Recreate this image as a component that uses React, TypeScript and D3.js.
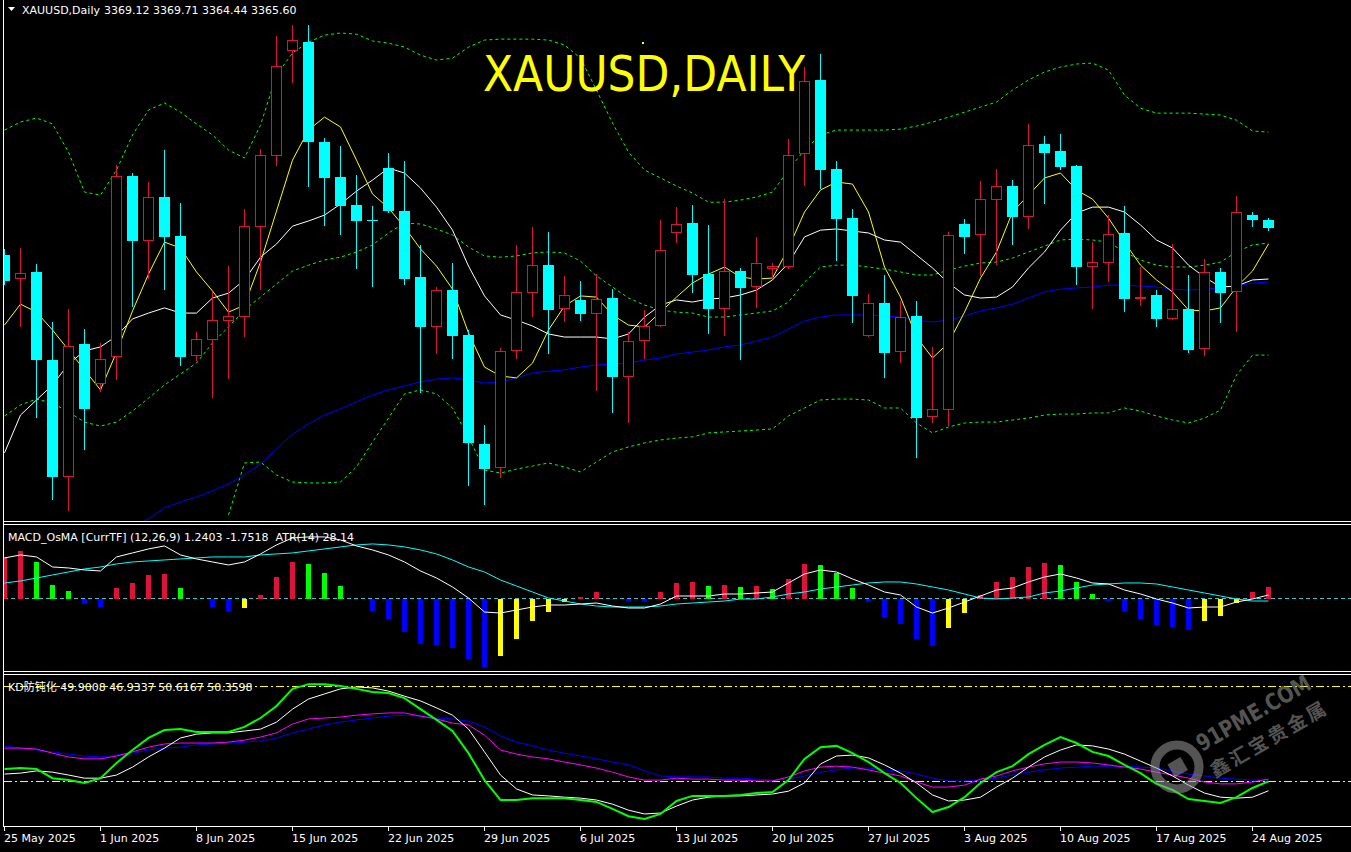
import * as d3 from "d3";
import { useEffect } from "react";

// XAUUSD daily, 25 May – 25 Aug 2025 (6 bars per week, Sunday bar included)
const tickLabels = ["25 May 2025", "1 Jun 2025", "8 Jun 2025", "15 Jun 2025", "22 Jun 2025", "29 Jun 2025", "6 Jul 2025",
  "13 Jul 2025", "20 Jul 2025", "27 Jul 2025", "3 Aug 2025", "10 Aug 2025", "17 Aug 2025", "24 Aug 2025"];
const BARS_PER_WEEK = 6;

const opens = [3354.1, 3343.9, 3346.9, 3309.4, 3259.6, 3316.2, 3299.2, 3310.7, 3387.7, 3360.1,
  3378.8, 3362.2, 3311.1, 3317.9, 3326.0, 3327.7, 3366.0, 3396.2, 3440.9, 3444.7,
  3402.2, 3387.3, 3375.4, 3369.0, 3391.1, 3372.8, 3344.7, 3323.5, 3339.2, 3320.1,
  3273.7, 3263.5, 3313.3, 3337.9, 3349.8, 3331.1, 3335.0, 3329.0, 3335.8, 3302.2,
  3317.5, 3323.9, 3363.5, 3367.7, 3346.0, 3331.1, 3347.3, 3340.5, 3348.1, 3349.0,
  3397.1, 3428.6, 3390.7, 3369.8, 3319.6, 3333.7, 3312.8, 3328.1, 3285.2, 3288.1,
  3367.3, 3362.6, 3377.5, 3383.5, 3370.3, 3401.3, 3398.4, 3392.0, 3349.0, 3350.7,
  3363.5, 3335.4, 3337.1, 3326.9, 3331.1, 3314.1, 3346.9, 3338.4, 3371.1, 3369.12];
const highs = [3356.7, 3357.1, 3350.3, 3325.6, 3331.1, 3322.6, 3316.7, 3392.4, 3389.0, 3385.2,
  3398.8, 3376.2, 3321.3, 3338.4, 3349.4, 3373.7, 3399.2, 3447.3, 3452.0, 3452.0,
  3403.9, 3400.5, 3388.2, 3374.9, 3397.5, 3394.1, 3358.4, 3340.5, 3350.7, 3322.2,
  3281.8, 3314.5, 3358.4, 3366.0, 3363.9, 3345.2, 3343.0, 3346.0, 3339.6, 3321.3,
  3330.7, 3369.0, 3374.5, 3375.4, 3366.9, 3377.9, 3348.6, 3361.8, 3350.7, 3403.5,
  3434.1, 3439.6, 3394.1, 3373.7, 3337.5, 3345.6, 3334.5, 3334.5, 3315.0, 3363.9,
  3369.4, 3385.6, 3390.7, 3386.0, 3409.9, 3404.7, 3405.6, 3392.4, 3359.6, 3371.1,
  3374.9, 3349.0, 3339.2, 3358.8, 3345.6, 3352.4, 3348.6, 3379.2, 3372.4, 3369.71];
const lows = [3341.3, 3323.5, 3284.7, 3249.9, 3245.2, 3271.1, 3295.8, 3300.9, 3332.0, 3343.9,
  3339.2, 3306.9, 3309.0, 3293.2, 3301.3, 3319.2, 3339.2, 3392.0, 3427.3, 3383.0,
  3366.4, 3362.6, 3348.1, 3340.5, 3372.0, 3341.3, 3295.4, 3312.0, 3309.8, 3255.8,
  3247.7, 3259.2, 3309.8, 3327.7, 3312.0, 3325.6, 3326.0, 3296.2, 3286.9, 3282.6,
  3309.8, 3323.5, 3359.2, 3337.9, 3320.5, 3319.6, 3309.4, 3331.6, 3344.3, 3348.1,
  3383.5, 3382.2, 3351.5, 3325.2, 3319.2, 3301.8, 3308.1, 3267.7, 3282.6, 3281.3,
  3354.5, 3345.2, 3349.8, 3358.4, 3365.2, 3375.8, 3390.3, 3341.3, 3331.1, 3342.6,
  3329.8, 3332.4, 3323.5, 3326.4, 3312.4, 3311.1, 3325.2, 3321.3, 3366.0, 3364.44];
const closes = [3343.0, 3346.4, 3309.4, 3259.6, 3315.4, 3288.6, 3309.8, 3387.7, 3360.1, 3378.8,
  3361.8, 3310.7, 3318.4, 3326.4, 3328.1, 3366.4, 3396.7, 3434.5, 3445.6, 3402.2,
  3386.9, 3374.9, 3368.6, 3368.6, 3372.8, 3343.9, 3323.5, 3339.2, 3319.6, 3274.1,
  3263.0, 3313.3, 3338.4, 3349.8, 3330.7, 3337.1, 3329.0, 3335.4, 3302.2, 3317.5,
  3323.9, 3356.2, 3367.3, 3345.6, 3331.1, 3347.3, 3340.1, 3350.7, 3349.4, 3396.7,
  3428.1, 3390.3, 3369.4, 3336.7, 3333.7, 3312.4, 3327.7, 3284.7, 3288.6, 3362.6,
  3361.8, 3377.9, 3383.5, 3370.3, 3400.9, 3397.5, 3391.6, 3349.0, 3351.1, 3363.0,
  3335.4, 3336.2, 3326.9, 3331.1, 3313.7, 3346.9, 3337.9, 3372.4, 3369.0, 3365.60];

// moving averages
const maFast = [3324.3, 3333.2, 3329.8, 3322.2, 3313.7, 3305.2, 3296.7, 3312.8, 3330.3, 3346.0,
  3359.6, 3357.1, 3346.9, 3338.8, 3329.8, 3332.8, 3351.1, 3372.8, 3394.5, 3407.3,
  3412.8, 3408.6, 3394.5, 3380.1, 3374.1, 3366.0, 3356.7, 3349.4, 3339.6, 3320.9,
  3306.4, 3302.6, 3301.8, 3308.1, 3322.2, 3332.4, 3336.7, 3336.2, 3328.6, 3324.3,
  3323.5, 3329.8, 3336.2, 3342.2, 3346.0, 3349.0, 3344.7, 3343.9, 3344.3, 3357.1,
  3372.4, 3381.8, 3385.2, 3384.3, 3372.4, 3349.0, 3336.2, 3319.2, 3310.3, 3316.7,
  3329.8, 3344.3, 3355.4, 3372.4, 3379.6, 3386.9, 3389.0, 3381.8, 3377.9, 3369.8,
  3359.6, 3349.8, 3343.5, 3338.4, 3330.7, 3330.3, 3331.6, 3340.5, 3347.3, 3358.8];
const maMid = [3269.9, 3286.0, 3292.4, 3298.8, 3307.7, 3313.3, 3315.0, 3319.6, 3326.9, 3329.4,
  3331.6, 3329.4, 3329.4, 3335.8, 3337.9, 3343.5, 3353.2, 3358.8, 3366.4, 3368.6,
  3371.1, 3375.8, 3381.3, 3386.0, 3391.1, 3389.0, 3382.6, 3374.5, 3364.7, 3349.4,
  3336.7, 3328.6, 3326.4, 3323.9, 3320.5, 3319.2, 3319.2, 3319.2, 3318.4, 3320.5,
  3327.7, 3332.8, 3335.0, 3334.1, 3335.4, 3335.8, 3337.1, 3339.2, 3343.5, 3350.7,
  3361.8, 3364.7, 3365.2, 3364.3, 3363.5, 3360.5, 3359.6, 3354.1, 3348.6, 3342.2,
  3337.1, 3335.8, 3336.2, 3340.5, 3348.6, 3355.4, 3364.7, 3372.0, 3374.5, 3374.5,
  3372.4, 3366.9, 3360.5, 3357.1, 3349.8, 3344.7, 3340.5, 3340.9, 3343.5, 3343.9];
const maSlow = [null, null, null, null, null, null, null, 3235.4, 3238.4, 3241.8,
  3246.5, 3249.0, 3251.1, 3253.7, 3256.7, 3260.5, 3265.2, 3271.6, 3277.9, 3282.2,
  3286.0, 3288.6, 3291.6, 3294.5, 3296.7, 3298.4, 3300.1, 3301.3, 3301.8, 3300.9,
  3299.6, 3300.1, 3301.8, 3303.9, 3304.7, 3305.2, 3306.4, 3307.3, 3307.7, 3308.1,
  3309.4, 3310.3, 3312.0, 3312.8, 3313.7, 3315.0, 3315.8, 3317.5, 3319.2, 3322.6,
  3326.0, 3327.7, 3328.6, 3328.6, 3328.6, 3328.1, 3327.7, 3326.4, 3325.6, 3326.4,
  3328.1, 3330.3, 3331.6, 3333.2, 3335.8, 3338.4, 3339.6, 3340.1, 3340.5, 3341.3,
  3341.3, 3340.9, 3340.5, 3339.6, 3339.2, 3339.6, 3340.1, 3340.9, 3342.2, 3342.6];

// bollinger bands
const bbUpper = [3407.3, 3410.7, 3412.4, 3409.9, 3397.9, 3380.9, 3379.6, 3390.3, 3405.2, 3415.8,
  3418.8, 3414.9, 3409.9, 3405.2, 3398.8, 3395.4, 3409.4, 3430.7, 3440.1, 3444.7,
  3447.7, 3448.6, 3448.1, 3445.2, 3444.3, 3442.6, 3439.2, 3437.1, 3437.9, 3442.6,
  3445.6, 3446.0, 3446.0, 3446.0, 3445.6, 3443.5, 3437.9, 3424.3, 3410.3, 3397.9,
  3390.3, 3386.9, 3383.5, 3380.5, 3376.6, 3376.6, 3377.5, 3378.8, 3380.9, 3390.3,
  3398.8, 3405.2, 3407.3, 3407.3, 3407.3, 3407.3, 3407.7, 3409.0, 3410.7, 3412.8,
  3414.9, 3417.1, 3419.2, 3424.3, 3428.6, 3432.0, 3434.1, 3435.4, 3435.8, 3432.8,
  3422.2, 3416.6, 3414.5, 3414.5, 3414.5, 3414.1, 3413.7, 3411.5, 3406.9, 3406.4];
const bbMiddle = [3285.6, 3290.3, 3292.8, 3291.1, 3287.3, 3283.0, 3281.3, 3283.0, 3287.7, 3293.2,
  3298.8, 3303.5, 3308.1, 3316.7, 3323.5, 3330.7, 3336.2, 3341.8, 3347.3, 3349.8,
  3352.0, 3353.2, 3355.4, 3358.4, 3363.5, 3367.7, 3367.3, 3365.2, 3362.6, 3357.5,
  3353.7, 3353.2, 3353.7, 3355.0, 3355.4, 3355.0, 3351.5, 3345.2, 3340.5, 3335.8,
  3332.8, 3330.7, 3329.8, 3329.4, 3327.7, 3327.7, 3328.6, 3329.4, 3330.3, 3334.1,
  3342.6, 3349.0, 3349.8, 3349.8, 3349.0, 3348.1, 3346.9, 3345.6, 3345.6, 3347.7,
  3349.4, 3350.7, 3351.1, 3352.8, 3355.4, 3357.9, 3360.5, 3360.9, 3360.5, 3359.6,
  3355.4, 3352.0, 3349.8, 3349.0, 3349.0, 3349.8, 3351.1, 3355.4, 3358.4, 3359.2];
const bbLower = [null, null, null, null, null, null, null, null, null, null,
  null, null, null, null, 3243.5, 3265.6, 3266.0, 3260.5, 3257.5, 3257.1,
  3257.1, 3257.5, 3263.9, 3274.5, 3284.7, 3295.0, 3296.7, 3295.0, 3289.0, 3276.7,
  3262.6, 3261.3, 3263.0, 3264.3, 3265.6, 3263.9, 3261.8, 3266.0, 3270.3, 3272.4,
  3274.1, 3275.4, 3276.2, 3276.7, 3278.4, 3278.8, 3279.2, 3279.6, 3280.1, 3285.6,
  3289.0, 3292.4, 3292.8, 3292.8, 3292.4, 3289.0, 3289.0, 3282.6, 3278.4, 3280.9,
  3282.6, 3283.0, 3283.0, 3283.9, 3284.7, 3286.0, 3286.4, 3286.4, 3286.9, 3286.9,
  3289.0, 3287.7, 3285.6, 3283.9, 3282.6, 3284.7, 3288.1, 3303.0, 3311.5, 3311.5];

// MACD_OsMA (12,26,9)
const osma = [4.57, 5.20, 4.02, 1.46, 0.84, -0.63, -0.99, 1.13, 1.71, 2.59,
  2.70, 1.13, -0.19, -0.99, -1.51, -1.10, 0.36, 2.34, 3.99, 3.80,
  2.81, 1.35, -0.19, -1.40, -2.27, -3.67, -5.02, -5.13, -5.43, -6.67,
  -7.52, -6.31, -4.44, -2.46, -1.47, -0.41, 0.11, 0.69, -0.08, -0.30,
  -0.37, 0.69, 1.68, 1.74, 1.35, 1.41, 1.24, 1.30, 1.02, 2.12,
  3.80, 3.66, 2.78, 1.13, -0.37, -2.13, -2.79, -4.47, -5.21, -3.23,
  -1.58, 0.33, 1.79, 2.34, 3.44, 3.88, 3.66, 1.79, 0.47, -0.30,
  -1.47, -2.27, -2.93, -3.15, -3.45, -2.49, -1.95, -0.48, 0.69, 1.2403];
const macdMain = [4.43, 4.76, 4.54, 3.44, 3.33, 3.11, 3.00, 4.54, 4.98, 5.42,
  5.75, 4.76, 4.32, 3.99, 3.66, 3.99, 4.87, 5.86, 6.63, 6.74,
  6.74, 6.41, 5.75, 5.31, 4.76, 3.99, 3.00, 2.23, 1.24, 0.03,
  -1.51, -1.62, -1.29, -0.96, -0.74, -0.74, -0.63, -0.52, -0.85, -1.07,
  -1.07, -0.63, 0.25, 0.25, 0.25, 0.47, 0.47, 0.58, 0.69, 1.68,
  2.67, 3.11, 2.89, 2.12, 1.46, 0.69, 0.36, -0.96, -1.62, -1.07,
  -0.41, 0.25, 0.91, 1.13, 1.79, 2.34, 2.67, 2.23, 1.68, 1.57,
  0.91, 0.47, -0.08, -0.52, -1.07, -0.96, -0.96, -0.41, -0.08, 0.36];
const macdSignal = [1.68, 1.90, 2.23, 2.56, 2.89, 3.22, 3.44, 3.77, 3.99, 4.10,
  4.21, 4.32, 4.43, 4.54, 4.54, 4.54, 4.76, 4.87, 4.98, 5.20,
  5.42, 5.64, 5.86, 5.97, 5.86, 5.64, 5.31, 4.87, 4.21, 3.44,
  2.89, 2.01, 1.35, 0.69, 0.03, -0.30, -0.63, -0.85, -0.96, -0.96,
  -0.96, -0.85, -0.63, -0.52, -0.41, -0.30, -0.08, -0.08, 0.14, 0.47,
  0.69, 1.02, 1.24, 1.46, 1.68, 1.79, 1.79, 1.57, 1.24, 0.91,
  0.47, 0.03, -0.08, 0.03, 0.14, 0.58, 0.80, 1.13, 1.46, 1.57,
  1.68, 1.68, 1.57, 1.24, 0.91, 0.58, 0.25, -0.08, -0.30, -0.30];

// KD防钝化
const kdFast = [53.8, 54.1, 53.8, 50.9, 50.3, 49.4, 50.9, 55.7, 59.8, 63.6,
  66.1, 66.4, 65.5, 65.5, 65.5, 67.1, 69.9, 73.7, 79.1, 80.6,
  80.6, 80.0, 79.1, 78.1, 77.8, 76.2, 72.7, 69.3, 65.8, 58.8,
  50.3, 44.0, 44.0, 44.6, 44.6, 44.6, 44.0, 43.4, 41.2, 38.9,
  38.0, 39.6, 43.7, 45.3, 45.3, 45.3, 45.6, 46.2, 46.5, 50.3,
  57.0, 60.7, 61.1, 58.8, 56.0, 52.5, 49.4, 44.6, 40.2, 41.8,
  44.9, 49.4, 52.8, 54.7, 58.5, 61.4, 63.9, 62.0, 59.2, 57.9,
  55.1, 52.5, 49.1, 47.2, 44.3, 43.7, 43.1, 44.9, 47.8, 49.9008];
const kdSlow = [52.2, 52.5, 53.2, 52.8, 51.9, 50.9, 50.9, 51.9, 54.4, 57.6,
  60.4, 63.6, 64.8, 65.2, 65.2, 65.8, 66.4, 68.6, 72.7, 75.9,
  77.5, 79.1, 79.7, 79.4, 78.4, 76.8, 75.3, 73.1, 70.8, 66.4,
  59.2, 51.9, 47.5, 45.6, 45.3, 44.9, 44.6, 44.0, 42.7, 40.8,
  39.6, 39.9, 42.1, 44.0, 44.9, 45.3, 45.3, 45.6, 45.9, 46.8,
  49.4, 55.4, 57.9, 58.2, 57.3, 55.1, 52.5, 49.4, 45.6, 43.7,
  44.0, 44.9, 48.1, 50.9, 54.4, 57.6, 59.8, 61.4, 61.1, 60.1,
  58.5, 56.3, 54.1, 51.6, 48.7, 46.2, 44.9, 44.6, 44.9, 46.9337];
const kdLongA = [60.4, 60.4, 60.1, 58.8, 57.6, 57.0, 57.0, 57.9, 59.2, 60.7,
  61.7, 62.0, 62.0, 62.0, 62.3, 62.9, 63.9, 65.2, 68.0, 69.6,
  69.9, 70.2, 70.8, 71.2, 71.5, 71.5, 70.5, 69.6, 68.3, 67.7,
  64.5, 59.8, 58.5, 57.6, 57.0, 56.0, 55.1, 54.1, 52.8, 51.3,
  50.3, 50.3, 50.9, 50.6, 50.6, 50.3, 50.3, 50.0, 50.0, 51.3,
  53.2, 54.4, 54.7, 54.4, 53.5, 52.5, 51.6, 49.7, 48.1, 48.1,
  48.7, 50.6, 51.6, 53.2, 54.4, 55.4, 56.0, 56.0, 55.7, 55.1,
  54.4, 53.8, 52.8, 51.9, 50.9, 49.7, 49.1, 49.1, 49.7, 50.6167];
const kdLongB = [61.1, 60.4, 59.8, 59.2, 58.5, 57.9, 57.6, 58.2, 58.8, 59.8,
  60.4, 60.7, 61.4, 61.7, 62.0, 62.3, 62.6, 63.6, 65.2, 66.4,
  67.7, 68.6, 69.3, 69.9, 70.5, 70.8, 70.5, 69.9, 69.6, 68.9,
  67.1, 64.2, 62.3, 61.1, 59.8, 58.8, 57.9, 57.0, 56.0, 55.1,
  53.2, 51.6, 51.3, 51.3, 51.3, 50.9, 50.9, 50.6, 50.3, 50.6,
  51.6, 52.8, 53.5, 54.1, 54.1, 53.5, 53.2, 52.2, 50.9, 50.0,
  50.0, 50.3, 50.9, 51.9, 52.8, 53.5, 54.1, 54.4, 54.7, 54.7,
  54.7, 54.4, 54.1, 53.2, 52.2, 51.6, 50.9, 50.6, 50.3, 50.3598];
const kdLevels = [80, 50];

const RED = "#DC143C";
const CYAN = "#00FFFF";
const LIME = "#00FF00";
const FONT = "DejaVu Sans, 'Noto Sans CJK SC', sans-serif";

export default function App() {
  useEffect(() => {
    document.body.style.margin = "0";
    document.body.style.background = "#000";
  }, []);

  const W = 1351, H = 852;
  const n = opens.length;
  const x = d3.scaleLinear().domain([0, n - 1]).range([4.5, 4.5 + 16 * (n - 1)]);
  const yP = d3.scaleLinear().domain([3240.9, 3461.8]).range([521, 2]);
  const yM = d3.scaleLinear().domain([-7.99, 8.16]).range([671, 524]);
  const yK = d3.scaleLinear().domain([35.8, 83.8]).range([826, 674]);

  const path = (scale: d3.ScaleLinear<number, number>, data: (number | null)[]) =>
    d3.line<number | null>()
      .defined(d => d != null)
      .x((_, i) => x(i))
      .y(d => scale(d as number))(data) || "";

  const zeroY = Math.round(yM(0));
  const barColor = (v: number, i: number) => {
    const prev = i > 0 ? osma[i - 1] : -Infinity;
    if (v >= 0) return v > prev ? RED : LIME;
    return v < prev ? "#0000FF" : "#FFFF00";
  };

  const panelLines = [521, 524, 671, 674, 826];
  const ticks = tickLabels.map((t, i) => ({ t, i: i * BARS_PER_WEEK }));

  return (
    <svg width={W} height={H} style={{ position: "absolute", left: 0, top: 0, display: "block", background: "#000" }}>
      <defs>
        <clipPath id="cMain"><rect x={4} y={0} width={W} height={521} /></clipPath>
        <clipPath id="cMacd"><rect x={4} y={525} width={W} height={146} /></clipPath>
        <clipPath id="cKd"><rect x={4} y={675} width={W} height={151} /></clipPath>
      </defs>
      <rect x={0} y={0} width={W} height={H} fill="#000" />

      {/* main window */}
      <g clipPath="url(#cMain)">
        {[bbUpper, bbMiddle, bbLower].map((b, j) => (
          <path key={j} d={path(yP, b)} fill="none" stroke={LIME} strokeWidth={1} strokeDasharray="3 3" />
        ))}
        <path d={path(yP, maSlow)} fill="none" stroke="#0000FF" strokeWidth={1} />
        <path d={path(yP, maMid)} fill="none" stroke="#FFFFFF" strokeWidth={1} />
        <path d={path(yP, maFast)} fill="none" stroke="#FFFF00" strokeWidth={1} />
        {opens.map((o, i) => {
          const c = closes[i];
          const up = c > o;
          const cx = x(i);
          const top = Math.round(yP(Math.max(o, c)));
          const bot = Math.round(yP(Math.min(o, c)));
          const col = up ? RED : CYAN;
          return (
            <g key={i}>
              <line x1={cx} x2={cx} y1={Math.round(yP(highs[i]))} y2={Math.round(yP(lows[i]))} stroke={col} strokeWidth={1} />
              {up ? (
                <rect x={cx - 5} y={top + 0.5} width={10} height={Math.max(bot - top - 1, 1)} fill="#000" stroke={RED} strokeWidth={1} />
              ) : (
                <rect x={cx - 5.5} y={top} width={11} height={Math.max(bot - top, 1)} fill={CYAN} />
              )}
            </g>
          );
        })}
      </g>
      <text x={483} y={91} fill="#FFFF00" fontFamily={FONT} fontSize={50} textLength={322} lengthAdjust="spacingAndGlyphs">XAUUSD,DAILY</text>
      <rect x={642} y={42} width={2} height={2} fill="#FFFF00" />
      <polygon points="8,7 15,7 11.5,11" fill="#FFFFFF" />
      <text x={22} y={14} fill="#FFFFFF" fontFamily={FONT} fontSize={11}>XAUUSD,Daily</text>
      <text x={104} y={14} fill="#FFFFFF" fontFamily={FONT} fontSize={11}>3369.12 3369.71 3364.44 3365.60</text>

      {/* MACD_OsMA window */}
      <g clipPath="url(#cMacd)">
        <line x1={4} x2={W} y1={zeroY + 0.5} y2={zeroY + 0.5} stroke="#40C0C8" strokeWidth={1} strokeDasharray="4 3" />
        {osma.map((v, i) => {
          const yv = Math.round(yM(v));
          const y0 = v >= 0 ? yv : zeroY + 1;
          const h = v >= 0 ? zeroY + 1 - yv : yv - zeroY - 1;
          return <rect key={i} x={x(i) - 2.5} y={y0} width={5} height={Math.max(h, 1)} fill={barColor(v, i)} />;
        })}
        <path d={path(yM, macdSignal)} fill="none" stroke={CYAN} strokeWidth={1} />
        <path d={path(yM, macdMain)} fill="none" stroke="#FFFFFF" strokeWidth={1} />
      </g>
      <text x={8} y={541} fill="#FFFFFF" fontFamily={FONT} fontSize={11} style={{ whiteSpace: "pre" }}>MACD_OsMA [CurrTF] (12,26,9) 1.2403 -1.7518  ATR(14) 28.14</text>

      {/* KD window */}
      <g clipPath="url(#cKd)">
        {kdLevels.map(l => (
          <line key={l} x1={4} x2={W} y1={Math.round(yK(l)) + 0.5} y2={Math.round(yK(l)) + 0.5} stroke="#FFFF00" strokeWidth={1} strokeDasharray="8 3 2 3" />
        ))}
        <path d={path(yK, kdLongB)} fill="none" stroke="#0000FF" strokeWidth={1} />
        <path d={path(yK, kdLongA)} fill="none" stroke="#FF00FF" strokeWidth={1} />
        <path d={path(yK, kdSlow)} fill="none" stroke="#FFFFFF" strokeWidth={1} />
        <path d={path(yK, kdFast)} fill="none" stroke={LIME} strokeWidth={2} />
      </g>
      <text x={8} y={691} fill="#FFFFFF" fontFamily={FONT} fontSize={11}>KD防钝化 49.9008 46.9337 50.6167 50.3598</text>

      {/* watermark */}
      <g opacity={0.55} fill="#9a9a9a">
        <circle cx={1177} cy={767} r={22} fill="none" stroke="#9a9a9a" strokeWidth={9} />
        <rect x={1170} y={760} width={15} height={15} transform="rotate(-30 1177 767)" />
        <text x={1202} y={752} fontFamily={FONT} fontWeight="bold" fontSize={23} textLength={128} lengthAdjust="spacingAndGlyphs" transform="rotate(-30 1202 752)">91PME.COM</text>
        <text x={1215} y={778} fontFamily={FONT} fontWeight="bold" fontSize={19} textLength={130} transform="rotate(-30 1215 778)">鑫汇宝贵金属</text>
      </g>

      {/* frame */}
      <line x1={3.5} x2={3.5} y1={0} y2={826} stroke="#FFFFFF" strokeWidth={1} />
      {panelLines.map(py => (
        <line key={py} x1={3} x2={W} y1={py + 0.5} y2={py + 0.5} stroke="#FFFFFF" strokeWidth={1} />
      ))}

      {/* time axis */}
      {ticks.map(({ t, i }) => (
        <g key={t}>
          <line x1={Math.floor(x(i)) + 0.5} x2={Math.floor(x(i)) + 0.5} y1={826} y2={831} stroke="#FFFFFF" strokeWidth={1} />
          <text x={Math.floor(x(i))} y={842} fill="#FFFFFF" fontFamily={FONT} fontSize={11}>{t}</text>
        </g>
      ))}
    </svg>
  );
}
